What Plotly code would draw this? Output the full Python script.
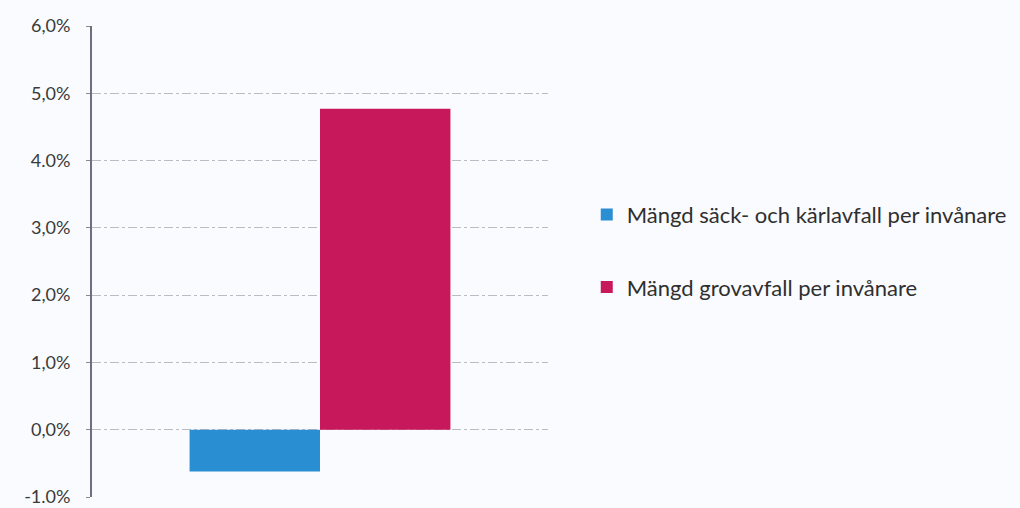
import plotly.graph_objects as go

categories = [""]
series_names = ["Mängd säck- och kärlavfall per invånare", "Mängd grovavfall per invånare"]
series_values = [[-0.0062], [0.0477]]
series_colors = ["#2a8ed2", "#c8185c"]
tick_vals = [-0.01, 0.0, 0.01, 0.02, 0.03, 0.04, 0.05, 0.06]
tick_text = ["-1.0%", "0,0%", "1,0%", "2,0%", "3,0%", "4.0%", "5,0%", "6,0%"]

fig = go.Figure()
for i, (name, vals, col) in enumerate(zip(series_names, series_values, series_colors)):
    fig.add_trace(go.Bar(
        x=categories, y=vals, name=name, marker_color=col,
        marker_line_width=0, legendgroup=f"g{i}",
    ))

fig.update_layout(
    width=1020, height=508,
    margin=dict(l=92, r=472, t=26, b=11, autoexpand=False),
    paper_bgcolor="#f9fbfe", plot_bgcolor="#f9fbfe",
    barmode="group", bargap=0.428, bargroupgap=0.0,
    font=dict(family="Lato, Open Sans, sans-serif", color="#3a3a3a"),
    showlegend=True,
    legend=dict(
        x=1.085, y=0.522, xanchor="left", yanchor="middle",
        font=dict(size=22, color="#2f2f2f"),
        tracegroupgap=41, bgcolor="rgba(0,0,0,0)",
        itemwidth=30,
    ),
)
fig.update_yaxes(
    range=[-0.01, 0.06], tickvals=tick_vals, ticktext=tick_text,
    tickfont=dict(size=18, color="#3a3a3a"),
    showline=True, linecolor="#6a7080", linewidth=2,
    ticks="outside", ticklen=4, tickcolor="#8a8a8a",
    ticklabelstandoff=12, automargin=False,
    showgrid=True, gridcolor="#b8bcc4", griddash="dashdot", gridwidth=1,
    zeroline=False,
)
fig.update_xaxes(showticklabels=False, showline=False, showgrid=False, zeroline=False, ticks="", automargin=False)

fig.write_html("out.html", config={"displayModeBar": False},
               post_script="document.body.style.margin='0';document.body.style.overflow='hidden';")
